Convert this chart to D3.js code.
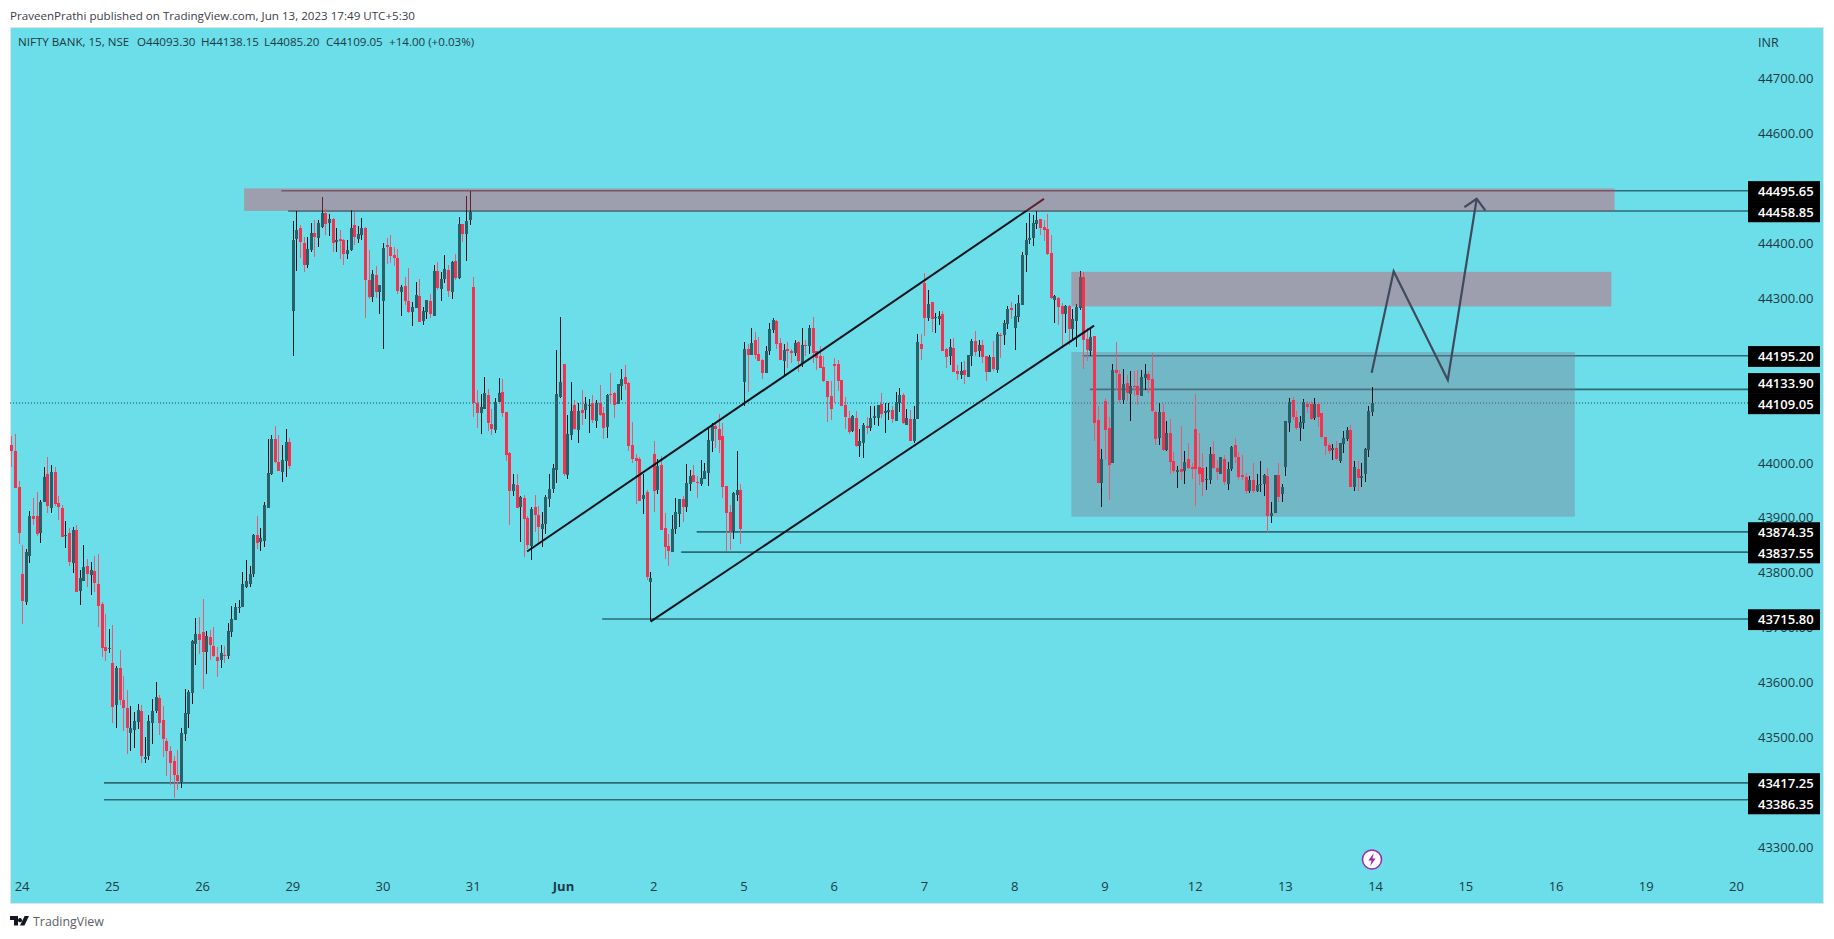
<!DOCTYPE html>
<html><head><meta charset="utf-8">
<script src="https://cdn.jsdelivr.net/npm/d3@7/dist/d3.min.js"></script>
<style>html,body{margin:0;padding:0;background:#fff;overflow:hidden}svg{display:block}text{font-family:"Open Sans",sans-serif}</style>
</head><body><svg id="c" width="1834" height="939"></svg>
<script>
const opens=[44033,44022,43956,43798,43746,43831,43903,43903,43873,43929,43980,43918,43984,43927,43918,43867,43872,43818,43878,43767,43785,43812,43796,43803,43780,43743,43665,43661,43636,43559,43627,43568,43554,43508,43514,43528,43548,43461,43466,43526,43548,43572,43532,43494,43475,43457,43432,
43418,43506,43543,43581,43671,43689,43692,43656,43683,43667,43647,43641,43650,43649,43692,43714,43736,43738,43774,43780,43798,43869,43856,43858,43918,43980,44044,44002,43984,44004,44038,
44277,44408,44428,44401,44361,44388,44419,44410,44430,44455,44437,44445,44403,44408,44406,44381,44388,44434,44408,44415,44428,44334,44303,44343,44312,44295,44397,44394,44379,44374,44312,44323,44295,44275,44283,44304,44259,44275,44295,44268,44350,44317,44335,44352,44312,44368,44337,44436,44417,44443,44321,44110,44091,44099,44124,44071,44060,44111,44130,
44093,44018,43949,43960,43920,43936,43900,43849,43920,43905,43880,43889,43935,43953,43987,44120,44180,43978,44051,44106,44060,44097,44097,44104,44109,44077,44109,44091,44066,44126,44128,44108,44140,44157,44146,44033,44009,44007,43935,43947,43783,44017,43951,43996,43882,43849,43838,43880,43907,43935,43920,43962,43978,43966,43962,43971,43982,44040,44068,44062,44049,43958,43911,43876,43942,43951,
44148,44208,44197,44224,44199,44188,44164,44204,44242,44259,44219,44186,44208,44204,44200,44220,44182,44215,44213,44246,44204,44195,44175,44149,44122,44180,44180,44151,44106,44082,44058,44082,44031,44037,44068,44064,44082,44082,44108,44091,44093,44097,44077,44109,44124,44069,44080,44040,44080,44217,
44328,44264,44293,44264,44262,44271,44208,44195,44209,44168,44160,44170,44157,44195,44222,44204,44215,44195,44166,44193,44170,44233,44233,44253,44282,44246,44266,44288,44379,44406,44410,44435,44444,44430,44426,44383,44297,44301,44286,44271,44286,44244,44259,44282,44339,44226,44204,
44232,44079,43963,44113,44064,44000,44170,44162,44115,44145,44126,44140,44140,44122,44155,44162,44153,44093,44046,44093,44024,44055,44004,43984,43989,43986,44008,43993,44062,43993,43991,43969,43969,44017,43991,43980,44008,43962,43988,44033,44011,43978,43975,43948,43968,43949,43960,43962,43977,43904,43909,43978,43944,43993,44073,44115,44084,44064,44073,44108,44108,44082,44108,44090,44048,44033,44024,44028,44004,44035,44044,44060,43957,43988,43973,43980,44024,44093.30];
const highs=[44049,44053,43967,43851,43843,43912,43936,43947,43933,43993,44011,43996,43993,43940,43923,43894,43881,43883,43887,43805,43851,43825,43820,43831,43834,43747,43725,43698,43705,43630,43659,43612,43587,43557,43546,43561,43559,43501,43541,43570,43601,43577,43557,43499,43485,43466,43477,
43517,43589,43587,43678,43718,43720,43752,43694,43696,43701,43665,43669,43667,43709,43740,43745,43751,43802,43824,43813,43871,43904,43882,43929,44044,44051,44068,44051,44033,44062,44046,
44441,44459,44434,44412,44412,44437,44443,44443,44485,44463,44454,44446,44428,44425,44408,44406,44461,44457,44432,44446,44430,44388,44352,44359,44324,44401,44410,44415,44394,44390,44324,44339,44355,44293,44330,44335,44284,44297,44308,44361,44366,44348,44379,44361,44368,44381,44448,44436,44486,44495,44339,44133,44126,44157,44135,44099,44119,44155,44153,
44093,44020,43980,43980,43940,43942,43904,43920,43942,43922,43911,43942,43980,43998,44206,44266,44180,44088,44148,44115,44109,44133,44120,44117,44124,44115,44142,44102,44126,44164,44129,44144,44171,44179,44148,44075,44017,44011,43980,43951,43802,44040,44007,44013,43909,43871,43905,43936,43935,43940,43998,43987,43997,43977,44006,44000,44066,44073,44075,44089,44073,43958,43924,43947,44022,43962,
44221,44217,44246,44239,44230,44190,44213,44255,44264,44261,44228,44217,44221,44208,44224,44222,44246,44224,44251,44266,44204,44213,44195,44149,44149,44191,44188,44151,44120,44095,44088,44095,44062,44073,44084,44104,44104,44106,44128,44109,44109,44104,44129,44137,44128,44099,44097,44104,44235,44235,
44346,44315,44293,44273,44277,44277,44209,44226,44228,44179,44184,44186,44197,44226,44241,44224,44224,44195,44197,44222,44239,44237,44261,44286,44293,44290,44306,44384,44437,44455,44452,44459,44444,44443,44454,44415,44306,44303,44291,44288,44288,44281,44290,44350,44348,44245,44246,
44232,44104,44026,44118,44083,44180,44220,44170,44171,44160,44168,44167,44170,44170,44181,44168,44200,44094,44109,44108,44077,44080,44020,43995,44068,44022,44036,44000,44126,44055,44018,43992,44029,44039,44006,44011,44015,44002,44031,44046,44020,44015,43981,43977,44000,43980,44004,43980,43991,43929,43978,44000,43962,44077,44118,44120,44094,44086,44117,44113,44113,44119,44109,44091,44048,44036,44035,44039,44037,44059,44066,44069,44004,44004,44000,44027,44104,44138.15];
const lows=[43993,43954,43852,43707,43741,43818,43887,43866,43855,43929,43909,43909,43922,43896,43865,43845,43812,43800,43765,43741,43785,43774,43760,43765,43701,43647,43639,43654,43526,43517,43559,43512,43470,43475,43481,43516,43454,43454,43459,43488,43545,43505,43465,43430,43413,43390,43404,
43408,43494,43517,43561,43632,43652,43589,43616,43641,43647,43610,43627,43636,43643,43683,43714,43727,43738,43773,43774,43793,43844,43840,43847,43918,43978,44000,43986,43966,43975,43989,
44195,44350,44374,44348,44355,44385,44375,44394,44428,44416,44414,44385,44385,44372,44361,44372,44386,44397,44401,44406,44264,44299,44293,44301,44272,44208,44363,44364,44359,44308,44268,44288,44273,44250,44283,44257,44252,44262,44264,44268,44315,44295,44328,44303,44299,44334,44335,44403,44368,44434,44084,44064,44053,44099,44059,44051,44055,44111,44084,
44004,43887,43940,43918,43856,43829,43844,43824,43875,43851,43847,43871,43920,43946,43964,44119,43977,43971,44042,44060,44037,44069,44080,44055,44073,44064,44086,44044,44046,44108,44082,44108,44115,44133,44022,44000,43926,43931,43907,43787,43712,43911,43944,43878,43825,43813,43838,43871,43884,43893,43911,43949,43966,43936,43958,43971,43958,44020,44027,44018,43936,43840,43842,43862,43930,43853,
44103,44129,44197,44190,44186,44153,44164,44197,44237,44208,44188,44159,44173,44182,44195,44166,44175,44195,44199,44182,44170,44173,44148,44075,44078,44109,44131,44104,44062,44053,44057,44029,44011,44009,44053,44058,44069,44068,44082,44055,44078,44073,44077,44093,44071,44069,44040,44037,44080,44188,
44231,44259,44239,44237,44251,44204,44173,44179,44166,44151,44153,44144,44157,44177,44195,44193,44182,44149,44166,44168,44164,44191,44215,44244,44262,44206,44257,44288,44348,44399,44395,44426,44415,44404,44379,44299,44255,44251,44209,44236,44215,44224,44211,44279,44171,44186,44195,
44039,43963,43919,44006,43933,44000,44133,44109,44108,44112,44076,44121,44105,44122,44133,44127,44092,44032,44033,44021,44021,43980,43981,43955,43969,43962,43988,43971,43922,43960,43940,43951,43962,43988,43969,43980,43960,43951,43986,44000,43968,43968,43944,43945,43945,43947,43947,43940,43875,43890,43908,43929,43929,43977,44057,44078,44060,44040,44062,44091,44078,44078,44066,44045,44015,44017,44006,44006,44000,44018,44039,43956,43948,43949,43957,43966,44011,44085.20];
const closes=[44021,43955,43873,43749,43838,43903,43898,43871,43929,43974,43922,43984,43925,43920,43865,43869,43820,43878,43765,43790,43811,43798,43805,43781,43740,43663,43658,43663,43556,43627,43568,43554,43517,43517,43530,43550,43466,43465,43530,43548,43574,43526,43497,43475,43454,43432,43421,
43508,43545,43583,43676,43689,43678,43656,43685,43669,43649,43640,43654,43649,43694,43716,43738,43738,43780,43785,43798,43869,43854,43864,43924,43982,44044,44002,43986,44006,44038,43995,
44406,44425,44403,44361,44390,44419,44412,44437,44455,44436,44445,44401,44406,44405,44381,44388,44428,44412,44417,44428,44334,44303,44344,44312,44324,44392,44394,44377,44374,44313,44321,44294,44275,44284,44306,44257,44277,44297,44272,44350,44319,44335,44354,44314,44366,44337,44436,44417,44441,44457,44110,44091,44102,44128,44073,44062,44111,44128,44091,
44015,43949,43962,43918,43938,43898,43851,43916,43905,43884,43889,43938,43953,43991,44126,44148,43980,44053,44095,44062,44095,44091,44108,44106,44078,44109,44088,44064,44124,44124,44106,44144,44153,44144,44031,44007,44004,43931,43942,43793,43791,43949,43995,43878,43847,43840,43880,43911,43935,43920,43964,43977,43966,43964,43973,43986,44042,44068,44062,44042,43956,43909,43876,43946,43951,43880,
44208,44197,44219,44197,44186,44164,44204,44244,44261,44217,44188,44206,44204,44200,44219,44186,44215,44213,44246,44200,44191,44173,44149,44120,44099,44177,44149,44104,44084,44057,44086,44031,44040,44069,44064,44082,44086,44106,44089,44095,44097,44080,44111,44124,44073,44082,44040,44080,44221,44208,
44264,44290,44262,44266,44268,44204,44193,44211,44166,44162,44168,44160,44197,44222,44202,44215,44193,44166,44193,44171,44235,44231,44255,44281,44279,44268,44291,44379,44406,44410,44437,44443,44428,44424,44381,44301,44304,44284,44271,44286,44244,44262,44284,44339,44224,44206,44230,
44072,43964,44008,44060,43997,44170,44164,44115,44144,44127,44140,44138,44124,44157,44162,44151,44094,44044,44093,44024,44055,44002,43986,43987,43984,44002,43991,43989,43989,43980,43966,43971,44017,43991,43984,44011,43966,43989,44029,44011,43975,43975,43948,43968,43949,43960,43962,43978,43904,43909,43978,43937,43957,44077,44111,44084,44064,44075,44111,44102,44080,44108,44084,44048,44030,44022,44028,44008,44037,44046,44060,43957,43993,43973,43977,44026,44095,44109.05];

const dayLabels=["24","25","26","29","30","31","Jun","2","5","6","7","8","9","12","13","14","15","16","19","20"];
const priceTicks=[44700,44600,44400,44300,44000,43900,43800,43700,43600,43500,43300];
const levelPrices=[44495.65,44458.85,44195.20,44133.90,43874.35,43837.55,43715.80,43417.25,43386.35];
const levelStarts=[74.8,76.7,296.8,298.8,189.9,185.6,163.7,25.7,25.7];
const lastPrice=44109.05;
const barsPerDay=25, firstDayBar=3;
const redZones=[[64.5,444.2,44500,44459],[293.7,443.3,44348,44285]];
const grayZone=[293.7,433.2,44202,43902];
const channelUpper=[[142.9,43838.6],[286.1,44481]];
const channelLower=[[177.1,43711],[300,44250]];
const forecastPath=[[376.9,44164],[383,44349],[398,44151],[406,44481]];
const forecastHead=[[402.6,44466],[406,44481],[408.4,44460]];

const svg=d3.select("#c");
const x=d3.scaleLinear().domain([0,377]).range([11.3,1372]);
const y=d3.scaleLinear().domain([43300,44700]).range([847.2,78.6]);
const line=d3.line().x(d=>x(d[0])).y(d=>y(d[1]));
const ink="#1d3a44";

svg.append("rect").attr("x",10.5).attr("y",27.5).attr("width",1813).attr("height",876)
  .attr("fill","#6bdeea").attr("stroke","#dfe4ea");
svg.append("text").attr("x",10).attr("y",19.5).attr("font-size",11.6).attr("fill","#3a4048")
  .text("PraveenPrathi published on TradingView.com, Jun 13, 2023 17:49 UTC+5:30");
const legend=[[18,"NIFTY BANK, 15, NSE"],[137,"O44093.30"],[201,"H44138.15"],[264,"L44085.20"],[326,"C44109.05"],[389,"+14.00 (+0.03%)"]];
svg.selectAll(".lg").data(legend).join("text").attr("x",d=>d[0]).attr("y",46).attr("font-size",11.6).attr("fill",ink).text(d=>d[1]);
svg.append("text").attr("x",1758).attr("y",46.5).attr("font-size",12.5).attr("fill",ink).text("INR");

// axes
const yAxis=svg.append("g").attr("transform","translate(1752,0)")
  .call(d3.axisRight(y).tickValues(priceTicks).tickFormat(d=>d.toFixed(2)).tickSize(0).tickPadding(6));
yAxis.select(".domain").remove();
yAxis.selectAll("text").attr("font-size",13).attr("fill",ink).attr("font-family",'"Open Sans",sans-serif');
const dayBars=dayLabels.map((d,i)=>firstDayBar+i*barsPerDay);
const xAxis=svg.append("g").attr("transform","translate(-0.5,878)")
  .call(d3.axisBottom(x).tickValues(dayBars).tickFormat((d,i)=>dayLabels[i]).tickSize(0).tickPadding(4));
xAxis.select(".domain").remove();
xAxis.selectAll("text").attr("font-size",13).attr("fill",ink).attr("font-family",'"Open Sans",sans-serif')
  .attr("font-weight",(d,i)=>dayLabels[i]==="Jun"?700:400);

// levels
svg.selectAll(".lvl").data(levelPrices).join("line").attr("x1",(d,i)=>x(levelStarts[i])).attr("x2",1748)
  .attr("y1",d=>y(d)).attr("y2",d=>y(d)).attr("stroke","#2e6a75").attr("stroke-width",1.6);
svg.append("line").attr("x1",10).attr("x2",1748).attr("y1",y(lastPrice)).attr("y2",y(lastPrice))
  .attr("stroke","#1c4a52").attr("stroke-width",1).attr("stroke-dasharray","1 2");

// lower box
svg.append("rect").attr("x",x(grayZone[0])).attr("width",x(grayZone[1])-x(grayZone[0]))
  .attr("y",y(grayZone[2])).attr("height",y(grayZone[3])-y(grayZone[2])).attr("fill","rgba(125,122,139,0.38)");

// candles
const bars=d3.range(opens.length);
const isUp=i=>closes[i]>=opens[i];
svg.append("g").attr("shape-rendering","crispEdges").selectAll("line").data(bars).join("line")
  .attr("x1",i=>Math.round(x(i))+.5).attr("x2",i=>Math.round(x(i))+.5)
  .attr("y1",i=>y(highs[i])).attr("y2",i=>y(lows[i]))
  .attr("stroke",i=>isUp(i)?"#06181c":"#e85a73");
svg.append("g").attr("shape-rendering","crispEdges").selectAll("rect").data(bars).join("rect")
  .attr("x",i=>Math.round(x(i))-1).attr("width",3)
  .attr("y",i=>y(Math.max(opens[i],closes[i])))
  .attr("height",i=>Math.max(1,Math.abs(y(opens[i])-y(closes[i]))))
  .attr("fill",i=>isUp(i)?"#2a5f68":"#f2334f");

// channel
[channelUpper,channelLower].forEach(c=>svg.append("path").attr("d",line(c)).attr("fill","none").attr("stroke","#08141a").attr("stroke-width",2));

// red zones
svg.selectAll(".rz").data(redZones).join("rect").attr("x",d=>x(d[0])).attr("width",d=>x(d[1])-x(d[0]))
  .attr("y",d=>y(d[2])).attr("height",d=>y(d[3])-y(d[2])).attr("fill","rgba(240,56,76,0.38)");

// forecast
[forecastPath,forecastHead].forEach(c=>svg.append("path").attr("d",line(c)).attr("fill","none").attr("stroke","#3f4a5c").attr("stroke-width",2.2));

// price boxes: stacked so that neighbouring labels do not collide
const labelPrices=levelPrices.concat([lastPrice]).sort((a,b)=>b-a);
const labelH=20.3;
const labelY=labelPrices.map(p=>y(p)+0.5);
for(let i=1;i<labelY.length;i++){
  const gap=labelY[i]-labelY[i-1];
  if(gap<labelH){
    if(labelPrices[i]===lastPrice) labelY[i-1]=labelY[i]-labelH;
    else labelY[i]=labelY[i-1]+labelH;
  }
}
const boxes=svg.selectAll(".pb").data(labelPrices).join("g");
boxes.append("rect").attr("x",1748).attr("width",72).attr("height",labelH+0.5).attr("y",(d,i)=>labelY[i]-labelH/2).attr("fill","#000");
boxes.append("text").attr("x",1758).attr("y",(d,i)=>labelY[i]+5).attr("font-size",13).attr("font-weight",600).attr("fill","#fff").text(d=>d.toFixed(2));

// lightning badge
const bx=x(377),by=859.5;
svg.append("circle").attr("cx",bx).attr("cy",by).attr("r",9.5).attr("fill","#fff").attr("stroke","#9c27b0").attr("stroke-width",1.5);
svg.append("path").attr("transform",`translate(${bx},${by})`).attr("d","M1.8-6.5L-3.6 1H-0.4L-1.8 6.5L3.6-1H0.4Z").attr("fill","#9c27b0");

// footer
svg.append("path").attr("transform","translate(10,915)").attr("fill","#131722")
  .attr("d","M0 1H8V10.5H4V5H0ZM19 1H14.6L10 10.5H14.4ZM10 3.1a2.1 2.1 0 1 1-0.01 0Z");
svg.append("text").attr("x",33).attr("y",926).attr("font-size",12.4).attr("fill","#5a5f68").text("TradingView");
</script></body></html>
